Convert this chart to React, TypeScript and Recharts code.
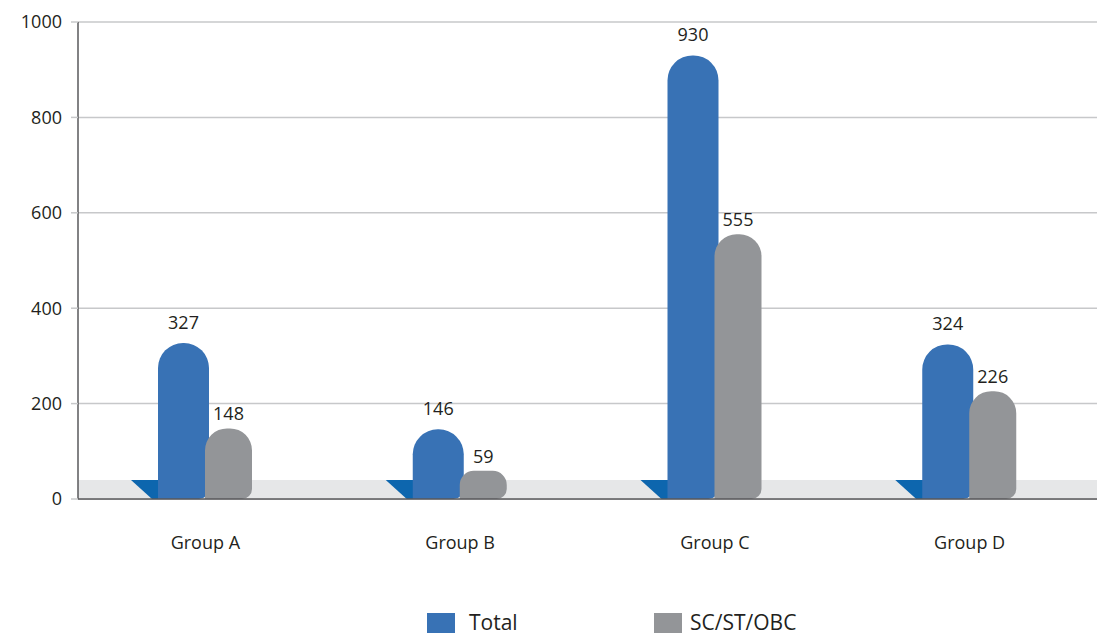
import {
  BarChart,
  Bar,
  XAxis,
  YAxis,
  CartesianGrid,
  ReferenceArea,
  Legend,
  LabelList,
  Rectangle,
} from "recharts";

const groups = ["Group A", "Group B", "Group C", "Group D"];
const totals = [327, 146, 930, 324];
const reserved = [148, 59, 555, 226];
const yTicks = [0, 200, 400, 600, 800, 1000];

const data = groups.map((g, i) => ({ group: g, total: totals[i], reserved: reserved[i] }));

const BLUE = "#3872b5";
const DARK_BLUE = "#0d66ae";
const GRAY = "#939598";
const FONT = "'Open Sans', sans-serif";

function TotalShape(props: any) {
  const { x, y, width, height } = props;
  const base = y + height;
  return (
    <g>
      <path d={`M${x - 27},${base - 19} L${x + 2},${base - 19} L${x + 2},${base} L${x - 6},${base} Z`} fill={DARK_BLUE} />
      <Rectangle x={x} y={y} width={width} height={height} radius={[25, 25, 10, 0]} fill={BLUE} />
    </g>
  );
}

function GrayShape(props: any) {
  const { x, y, width, height } = props;
  return <Rectangle x={x} y={y} width={width} height={height} radius={[22, 22, 10, 0]} fill={GRAY} />;
}

function LegendContent() {
  return (
    <div style={{ position: "relative", height: 36, fontFamily: FONT, fontSize: 21, color: "#231f20" }}>
      <div style={{ position: "absolute", left: 427, top: 14, width: 28, height: 20, background: BLUE }} />
      <div style={{ position: "absolute", left: 469, top: 9, lineHeight: "28px" }}>Total</div>
      <div style={{ position: "absolute", left: 654, top: 14, width: 28, height: 20, background: GRAY }} />
      <div style={{ position: "absolute", left: 690, top: 9, lineHeight: "28px" }}>SC/ST/OBC</div>
    </div>
  );
}

export default function App() {
  return (
    <div style={{ position: "absolute", left: 0, top: 0, width: 1097, height: 635, background: "#fff" }}>
      <BarChart
        width={1097}
        height={635}
        data={data}
        margin={{ top: 22, right: 0, left: 0, bottom: 0 }}
        barGap={-4}
      >
        <CartesianGrid vertical={false} stroke="#c7c8ca" strokeWidth={1.5} />
        <ReferenceArea y1={0} y2={40} fill="#e6e7e8" fillOpacity={1} stroke="none" />
        <XAxis
          dataKey="group"
          height={100}
          tickSize={0}
          tickMargin={37}
          axisLine={{ stroke: "#58595b", strokeWidth: 1.5 }}
          tick={{ fill: "#231f20", fontSize: 18, fontFamily: FONT }}
        />
        <YAxis
          width={78}
          domain={[0, 1000]}
          ticks={yTicks}
          interval={0}
          tickSize={7}
          tickMargin={9}
          tickLine={{ stroke: "#c7c8ca", strokeWidth: 1.5 }}
          axisLine={{ stroke: "#58595b", strokeWidth: 1.5 }}
          tick={{ fill: "#231f20", fontSize: 18, fontFamily: FONT }}
        />
        <Legend verticalAlign="bottom" height={36} content={<LegendContent />} />
        <Bar dataKey="total" name="Total" barSize={51} shape={<TotalShape />} isAnimationActive={false}>
          <LabelList dataKey="total" position="top" offset={14} fill="#231f20" fontSize={18} fontFamily={FONT} />
        </Bar>
        <Bar dataKey="reserved" name="SC/ST/OBC" barSize={47} shape={<GrayShape />} isAnimationActive={false}>
          <LabelList dataKey="reserved" position="top" offset={8} fill="#231f20" fontSize={18} fontFamily={FONT} />
        </Bar>
      </BarChart>
    </div>
  );
}
